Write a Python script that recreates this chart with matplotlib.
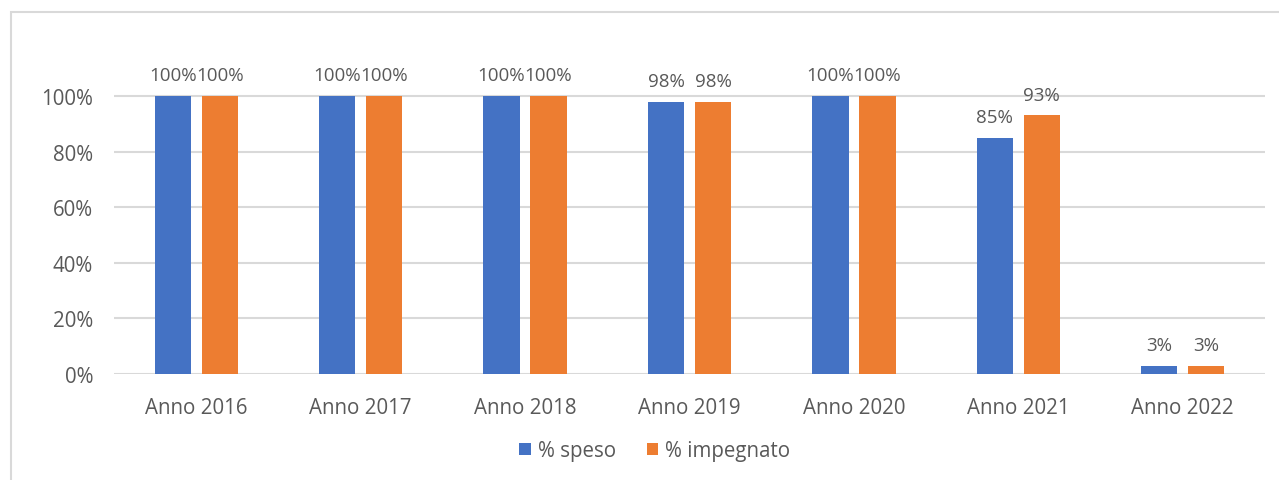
import matplotlib
matplotlib.use("Agg")
import matplotlib.pyplot as plt
import numpy as np
from matplotlib.patches import Rectangle
from matplotlib.ticker import PercentFormatter

categories = ["Anno 2016", "Anno 2017", "Anno 2018", "Anno 2019", "Anno 2020", "Anno 2021", "Anno 2022"]
speso = [100, 100, 100, 98, 100, 85, 3]
impegnato = [100, 100, 100, 98, 100, 93, 3]
speso_lbl = ["100%", "100%", "100%", "98%", "100%", "85%", "3%"]
impegnato_lbl = ["100%", "100%", "100%", "98%", "100%", "93%", "3%"]

plt.rcParams['font.family'] = ['Open Sans', 'DejaVu Sans']
TXT = "#595959"
BLUE = "#4472C4"
ORANGE = "#ED7D31"

W, H = 1279, 481
fig = plt.figure(figsize=(W/100, H/100), dpi=100)
fig.patches.append(Rectangle((11/W, -0.1), 1.2, 1 - 13/H + 0.1, transform=fig.transFigure,
                             fill=False, edgecolor="#D9D9D9", linewidth=1.5))

ax = fig.add_axes([114/W, 1-375/H, (1265-114)/W, (375-41.4)/H])
x = np.arange(len(categories))
bw = 0.22
off = 0.143
b1 = ax.bar(x - off, speso, bw, color=BLUE, label="% speso", zorder=3)
b2 = ax.bar(x + off, impegnato, bw, color=ORANGE, label="% impegnato", zorder=3)
for bars, lbls in ((b1, speso_lbl), (b2, impegnato_lbl)):
    for r, l in zip(bars, lbls):
        ax.annotate(l, (r.get_x() + r.get_width()/2, r.get_height()), xytext=(0, 8.5),
                    textcoords="offset points", ha="center", va="bottom", fontsize=13.5, color=TXT)

ax.set_xlim(-0.5, len(categories) - 0.5)
ax.set_ylim(0, 120)
ax.set_yticks([0, 20, 40, 60, 80, 100])
ax.yaxis.set_major_formatter(PercentFormatter(decimals=0))
ax.set_xticks(x)
ax.set_xticklabels(categories)
ax.tick_params(axis="both", length=0, colors=TXT, labelsize=14.8)
ax.tick_params(axis="y", pad=15)
ax.tick_params(axis="x", pad=16.5)
ax.grid(axis="y", color="#D9D9D9", linewidth=1.5, zorder=0)
for s in ax.spines.values():
    s.set_visible(False)
ax.set_facecolor("none")

fig.legend(handles=[b1, b2], loc="center", bbox_to_anchor=(655/W, 1-452/H), ncol=2,
           frameon=False, fontsize=14.8, labelcolor=TXT, handlelength=0.55, handleheight=0.55,
           handletextpad=0.35, columnspacing=1.5)

fig.savefig("out.png", dpi=100, facecolor="white")
